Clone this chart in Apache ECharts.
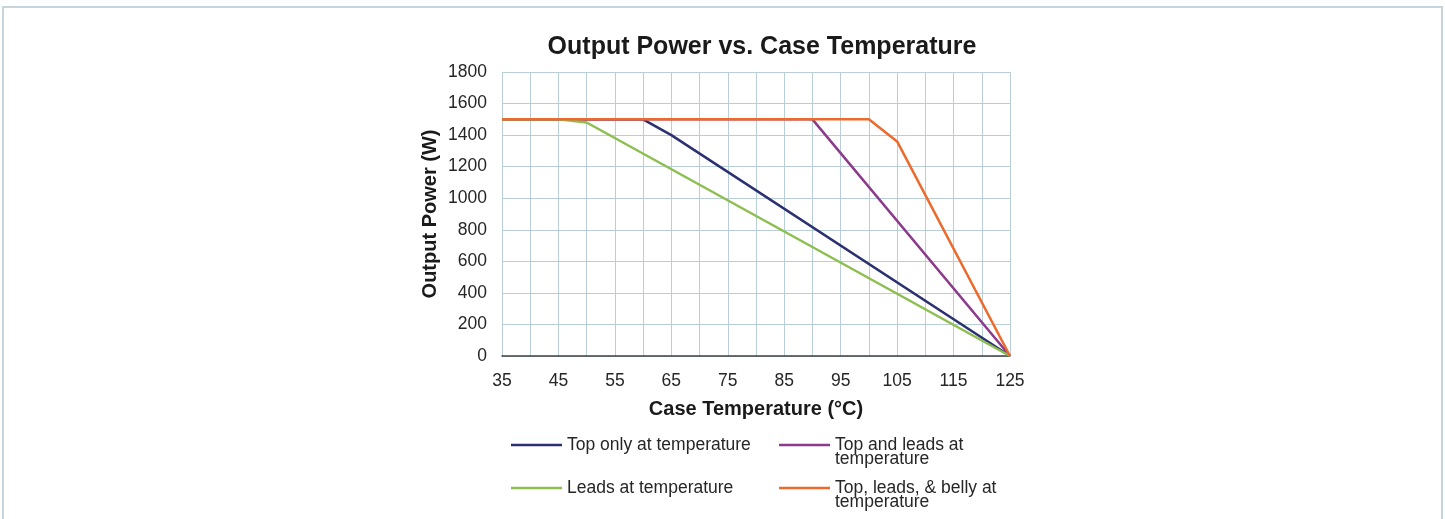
<!DOCTYPE html>
<html>
<head>
<meta charset="utf-8">
<script src="https://cdn.jsdelivr.net/npm/echarts@6/dist/echarts.min.js"></script>
<style>
  html, body { margin: 0; padding: 0; background: #ffffff; overflow: hidden; }
  #frame { position: absolute; left: 2px; top: 6px; width: 1437px; height: 600px;
           border-left: 2px solid #c8d4db; border-top: 2px solid #c8d4db; border-right: 2px solid #c8d4db; }
  #chart { position: absolute; left: 0; top: 0; width: 1445px; height: 519px; }
</style>
</head>
<body>
<div id="frame"></div>
<div id="chart"></div>
<script>
// Derating curves: output power (W) against case temperature (°C)
const seriesNames = [
  'Top only at temperature',
  'Top and leads at temperature',
  'Leads at temperature',
  'Top, leads, & belly at temperature'
];
const topOnlyTemp = [35, 60, 65, 125];
const topOnlyPower = [1500, 1500, 1400, 0];
const topLeadsTemp = [35, 90, 125];
const topLeadsPower = [1500, 1500, 0];
const leadsTemp = [35, 45, 50, 125];
const leadsPower = [1500, 1500, 1480, 0];
const bellyTemp = [35, 100, 105, 125];
const bellyPower = [1500, 1500, 1360, 0];
const seriesColors = ['#2b3170', '#8c3a8c', '#8cbf4f', '#ec6a2c'];

const pairs = (xs, ys) => xs.map((x, i) => [x, ys[i]]);
const seriesData = [
  pairs(topOnlyTemp, topOnlyPower),
  pairs(topLeadsTemp, topLeadsPower),
  pairs(leadsTemp, leadsPower),
  pairs(bellyTemp, bellyPower)
];

const FONT = '"Liberation Sans", Arial, sans-serif';
const gridColor = '#b9ced7';

// One legend per entry so the 2x2 layout and wrapped labels sit where wanted.
// Wrapped labels get an empty first line so the swatch lines up with the first text line.
const legendSpots = [
  { left: 511, row: 0, wrap: false },
  { left: 779, row: 0, wrap: true },
  { left: 511, row: 1, wrap: false },
  { left: 779, row: 1, wrap: true }
];
const rowCenters = [443, 486];
const LH = 14;
const legends = legendSpots.map((s, i) => {
  const boxH = s.wrap ? 3 * LH : LH;
  return {
    data: [seriesNames[i]],
    left: s.left,
    top: rowCenters[s.row] - boxH / 2,
    padding: 0,
    icon: 'rect',
    itemWidth: 51,
    itemHeight: 2.5,
    itemGap: 0,
    selectedMode: false,
    formatter: s.wrap
      ? (n => '\n' + n.replace(/ temperature$/, '\ntemperature'))
      : (n => n),
    textStyle: { fontFamily: FONT, fontSize: 17.5, color: '#262626', lineHeight: LH }
  };
});

const chart = echarts.init(document.getElementById('chart'), null, { renderer: 'canvas' });
chart.setOption({
  animation: false,
  backgroundColor: 'transparent',
  title: {
    text: 'Output Power vs. Case Temperature',
    left: 757, top: 30, textAlign: 'center',
    textStyle: { fontFamily: FONT, fontSize: 25, fontWeight: 'bold', color: '#1a1a1a' }
  },
  legend: legends,
  grid: { left: 502, right: 435, top: 72, bottom: 163, containLabel: false },
  xAxis: {
    type: 'value', min: 35, max: 125, interval: 5,
    name: 'Case Temperature (°C)', nameLocation: 'middle', nameGap: 43,
    nameTextStyle: { fontFamily: FONT, fontSize: 20, fontWeight: 'bold', color: '#1a1a1a' },
    axisLine: { show: true, lineStyle: { color: '#404040', width: 1.5 } },
    axisTick: { show: false },
    axisLabel: {
      margin: 16, fontFamily: FONT, fontSize: 17.5, color: '#262626',
      formatter: v => ((v - 35) % 10 === 0 ? String(v) : '')
    },
    splitLine: { show: true, lineStyle: { color: gridColor, width: 1 } }
  },
  yAxis: {
    type: 'value', min: 0, max: 1800, interval: 200,
    name: 'Output Power (W)', nameLocation: 'middle', nameGap: 62,
    nameTextStyle: { fontFamily: FONT, fontSize: 20, fontWeight: 'bold', color: '#1a1a1a' },
    axisLine: { show: false },
    axisTick: { show: false },
    axisLabel: {
      margin: 15, fontFamily: FONT, fontSize: 17.5, color: '#262626',
      formatter: v => String(v)
    },
    splitLine: { show: true, lineStyle: { color: gridColor, width: 1 } }
  },
  series: seriesNames.map((name, i) => ({
    name,
    type: 'line',
    data: seriesData[i],
    showSymbol: false,
    symbol: 'none',
    color: seriesColors[i],
    lineStyle: { color: seriesColors[i], width: 2.5 },
    z: 2 + i
  }))
});
</script>
</body>
</html>
